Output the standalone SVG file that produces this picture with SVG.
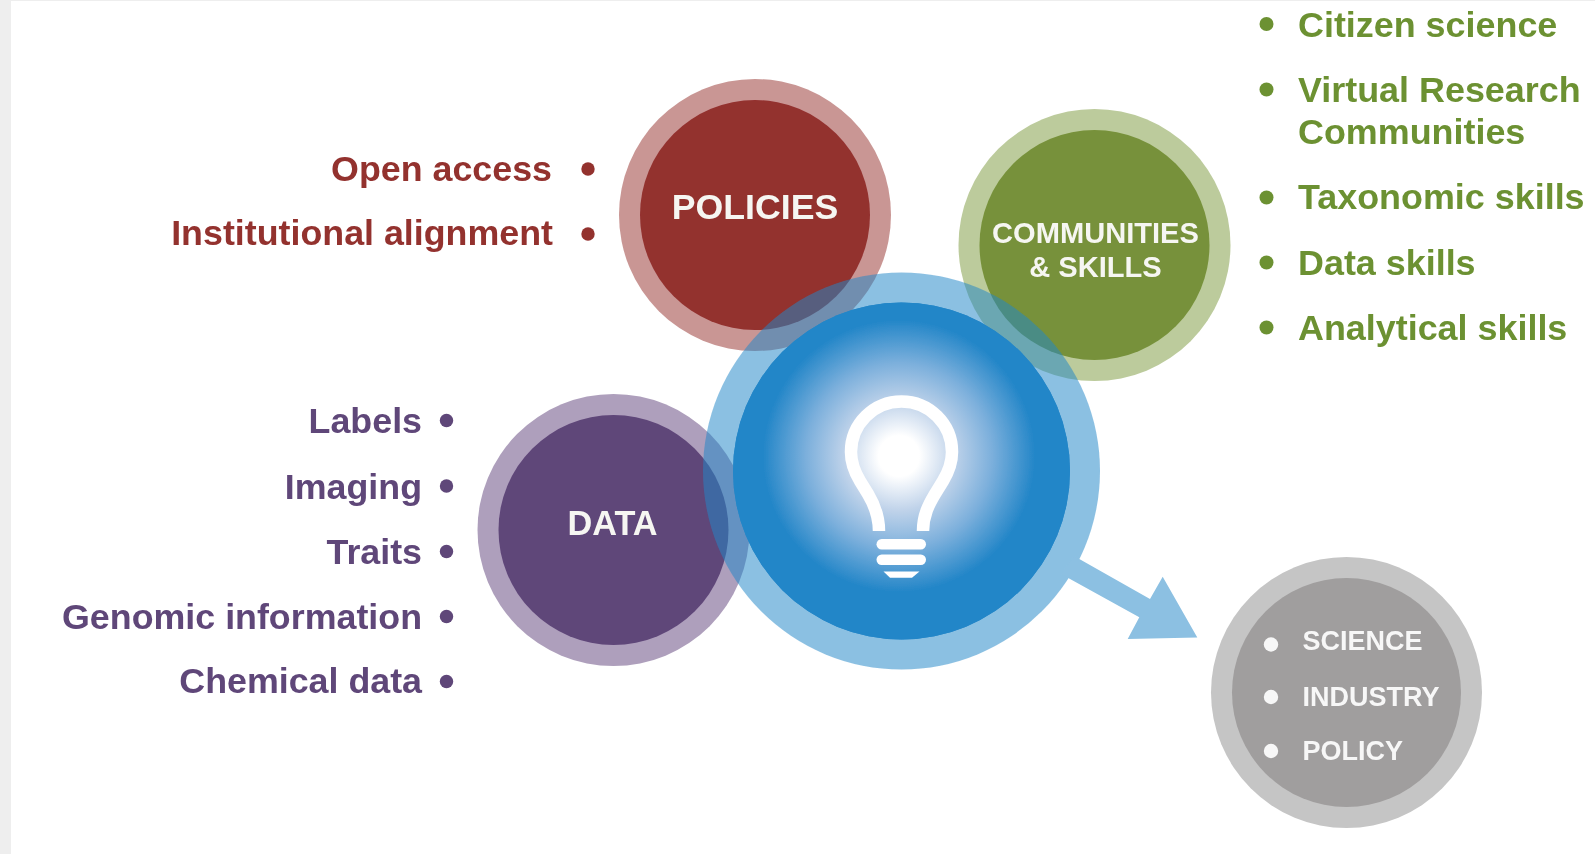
<svg xmlns="http://www.w3.org/2000/svg" width="1595" height="854" viewBox="0 0 1595 854">
<style>
text{font-family:"Liberation Sans",Arial,sans-serif;font-weight:700}
g.soft{filter:url(#soft)}
.lbl{font-size:35.8px}
.end{text-anchor:end}
.mid{text-anchor:middle;fill:#f6f6f2}
.red{fill:#93312f}.pur{fill:#5f4679}.grn{fill:#6c9132}.wht{fill:#f7f7f7}
.gl{font-size:27px;fill:#f7f7f7}
.bulb{fill:none;stroke:#fff;stroke-width:12.5}
</style>
<defs>
<filter id="soft" x="-5%" y="-5%" width="110%" height="110%"><feGaussianBlur stdDeviation="0.4"/></filter>
<radialGradient id="glow" gradientUnits="userSpaceOnUse" cx="899" cy="456" r="136">
<stop offset="0" stop-color="#fff"/>
<stop offset=".15" stop-color="#fff"/>
<stop offset=".40" stop-color="#c0d3ea"/>
<stop offset=".68" stop-color="#7db0dc"/>
<stop offset="1" stop-color="#2386c8"/>
</radialGradient>
</defs>
<rect width="1595" height="854" fill="#fff"/>
<rect width="11" height="854" fill="#eeeeee"/>
<rect width="1595" height="1" fill="#eeeeee"/>

<g id="policies" class="soft">
<circle cx="755" cy="215" r="136" fill="#c99694"/>
<circle cx="755" cy="215" r="115" fill="#93312f"/>
<text class="mid" x="755" y="218.5" font-size="35.7">POLICIES</text>
<text class="lbl end red" x="552" y="181">Open access</text>
<circle class="red" cx="588" cy="169" r="6.7"/>
<text class="lbl end red" x="553" y="245">Institutional alignment</text>
<circle class="red" cx="588" cy="234" r="6.7"/>
</g>

<g id="communities" class="soft">
<circle cx="1094.5" cy="245" r="136" fill="#bccb9c"/>
<circle cx="1094.5" cy="245" r="115" fill="#77913a"/>
<text class="mid" x="1095.5" y="242.5" font-size="29.1">COMMUNITIES</text>
<text class="mid" x="1095.5" y="277" font-size="29.1">&amp; SKILLS</text>
<circle class="grn" cx="1266.5" cy="24" r="7"/>
<text class="grn" x="1298" y="36.5" font-size="35.9">Citizen science</text>
<circle class="grn" cx="1266.5" cy="89.5" r="7"/>
<text class="grn" x="1298" y="101.5" font-size="35.9">Virtual Research</text>
<text class="grn" x="1298" y="143.5" font-size="35.9">Communities</text>
<circle class="grn" cx="1266.5" cy="197.5" r="7"/>
<text class="grn" x="1298" y="208.5" font-size="35.9">Taxonomic skills</text>
<circle class="grn" cx="1266.5" cy="262.5" r="7"/>
<text class="grn" x="1298" y="274.5" font-size="35.9">Data skills</text>
<circle class="grn" cx="1266.5" cy="327.5" r="7"/>
<text class="grn" x="1298" y="339.5" font-size="35.9">Analytical skills</text>
</g>

<g id="data" class="soft">
<circle cx="613.5" cy="530" r="136" fill="#ae9fbc"/>
<circle cx="613.5" cy="530" r="115" fill="#5f4679"/>
<text class="mid" x="612.5" y="535" font-size="34.3">DATA</text>
<text class="lbl end pur" x="422" y="433">Labels</text>
<circle class="pur" cx="446.5" cy="420.5" r="6.7"/>
<text class="lbl end pur" x="422" y="499">Imaging</text>
<circle class="pur" cx="446.5" cy="486" r="6.7"/>
<text class="lbl end pur" x="422" y="564">Traits</text>
<circle class="pur" cx="446.5" cy="551.5" r="6.7"/>
<text class="lbl end pur" x="422" y="629">Genomic information</text>
<circle class="pur" cx="446.5" cy="616.5" r="6.7"/>
<text class="lbl end pur" x="422" y="693">Chemical data</text>
<circle class="pur" cx="446.5" cy="681.5" r="6.7"/>
</g>

<g id="idea" class="soft">
<circle cx="901.5" cy="471" r="198.5" fill="#2386c8" fill-opacity=".52"/>
<circle cx="901.5" cy="471" r="168.5" fill="#2386c8"/>
<circle cx="901.5" cy="471" r="168.5" fill="url(#glow)"/>
<path class="bulb" d="M879 531C879 515 874 504 868 494L860 481C854 471 851 462 851 452A50.5 50.5 0 0 1 952 452C952 462 949 471 943 481L935 494C929 504 923 515 923 531"/>
<rect x="876.5" y="539" width="49.5" height="10.5" rx="5.2" fill="#fff"/>
<rect x="876.5" y="554.5" width="49.5" height="10.5" rx="5.2" fill="#fff"/>
<path d="M883.5 571.5H919.5L912 577.7H890Z" fill="#fff"/>
</g>

<g id="connectors" class="soft">
<path d="M1074 556L1150 599L1162.7 576.7L1197.3 637.5L1127.7 639L1139.3 617.3L1061 574Z" fill="#8cc0e2"/>
</g>

<g id="outcomes" class="soft">
<circle cx="1346.5" cy="692.5" r="135.5" fill="#c5c5c5"/>
<circle cx="1346.5" cy="692.5" r="114.5" fill="#a09e9e"/>
<circle class="wht" cx="1271" cy="644.5" r="7.2"/>
<text class="gl" x="1302.5" y="649.5">SCIENCE</text>
<circle class="wht" cx="1271" cy="697" r="7.2"/>
<text class="gl" x="1302.5" y="705.5">INDUSTRY</text>
<circle class="wht" cx="1271" cy="751" r="7.2"/>
<text class="gl" x="1302.5" y="760">POLICY</text>
</g>
</svg>
